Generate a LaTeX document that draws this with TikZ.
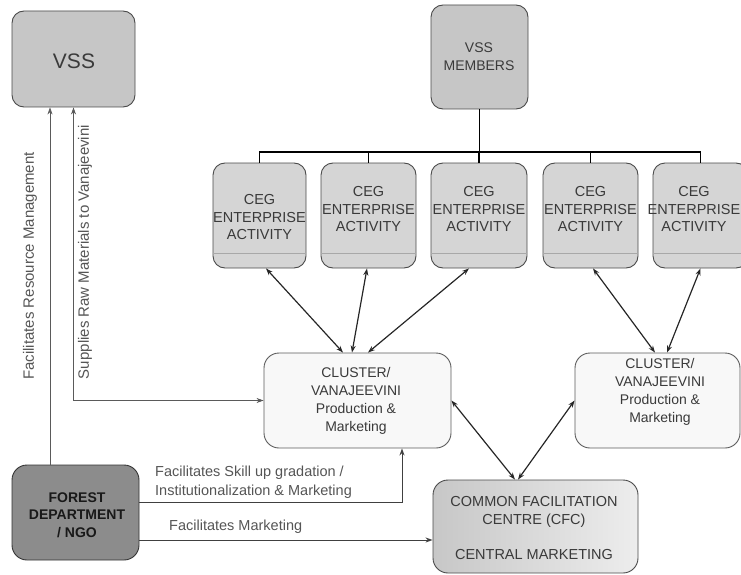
\documentclass[tikz,border=0pt]{standalone}
\usepackage{fontspec}
\setmainfont{Liberation Sans}
\usetikzlibrary{arrows.meta}

\definecolor{boxline}{HTML}{4A4A4A}
\definecolor{vssfill}{HTML}{C6C6C6}
\definecolor{cegfill}{HTML}{D5D5D5}
\definecolor{cegband}{HTML}{A8A8A8}
\definecolor{clusterfill}{HTML}{F8F8F8}
\definecolor{fdfill}{HTML}{8C8C8C}
\definecolor{textgray}{HTML}{3A3A3A}
\definecolor{lblgray}{HTML}{555555}
\definecolor{thinline}{HTML}{5A5A5A}

\tikzset{
  panel/.style={draw=boxline, line width=0.9pt, rounded corners=12pt, inner sep=0pt},
  boxtext/.style={text=textgray, align=center, inner sep=0pt,
    font=\fontsize{14}{18}\selectfont},
  cegtext/.style={boxtext, font=\fontsize{14.5}{17.5}\selectfont},
  lbl/.style={text=lblgray, align=left, inner sep=0pt,
    font=\fontsize{14.5}{19.5}\selectfont},
  busline/.style={draw=black, line width=1.6pt},
  tip/.tip={Stealth[length=7pt,width=5pt]},
  link/.style={draw=black!85, line width=1.2pt, tip-tip},
  feed/.style={draw=black!75, line width=0.9pt, -tip},
  thinfeed/.style={draw=thinline, line width=0.7pt},
  band/.style={draw=cegband, line width=1pt}
}

\begin{document}
\begin{tikzpicture}[x=1pt,y=-1pt]
\useasboundingbox (0,0) rectangle (741,575);
\clip (0,0) rectangle (741,575);

% ---- top left: VSS
\node[panel, fill=vssfill, minimum width=123pt, minimum height=96pt] (vss) at (73.5,59) {};
\node[boxtext, font=\fontsize{21}{24}\selectfont] (vss-t) at (74,61) {VSS};

% ---- VSS members and the enterprise groups below them
\node[panel, fill=vssfill, minimum width=97pt, minimum height=104pt] (mem) at (479.5,57) {};
\node[boxtext] (mem-t) at (479,57) {VSS\\MEMBERS};

\node[panel, fill=cegfill, minimum width=93pt, minimum height=105pt] (ceg1) at (259.5,215.5) {};
\node[panel, fill=cegfill, minimum width=95pt, minimum height=105pt] (ceg2) at (368.5,215.5) {};
\node[panel, fill=cegfill, minimum width=96pt, minimum height=105pt] (ceg3) at (479,215.5) {};
\node[panel, fill=cegfill, minimum width=95pt, minimum height=105pt] (ceg4) at (590.5,215.5) {};
\node[panel, fill=cegfill, minimum width=95pt, minimum height=105pt] (ceg5) at (700.5,215.5) {};

\foreach \n in {ceg1,ceg2,ceg3,ceg4,ceg5}
  \draw[band] ([yshift=-37.5pt,xshift=0.5pt]\n.west) -- ([yshift=-37.5pt,xshift=-0.5pt]\n.east);

\node[cegtext] (ceg1-t) at (259.5,217.5) {CEG\\ENTERPRISE\\ACTIVITY};
\node[cegtext] (ceg2-t) at (368.5,209.5) {CEG\\ENTERPRISE\\ACTIVITY};
\node[cegtext] (ceg3-t) at (479,209.5) {CEG\\ENTERPRISE\\ACTIVITY};
\node[cegtext] (ceg4-t) at (590.5,209.5) {CEG\\ENTERPRISE\\ACTIVITY};
\node[cegtext] (ceg5-t) at (694,209.5) {CEG\\ENTERPRISE\\ACTIVITY};

% ---- clusters
\node[panel, draw=boxline!90, fill=clusterfill, rounded corners=15pt,
      minimum width=187pt, minimum height=95pt] (cl1) at (357.5,400.5) {};
\node[boxtext] (cl1-t) at (356,400.5) {CLUSTER/\\VANAJEEVINI\\Production \&\\Marketing};

\node[panel, draw=boxline!90, fill=clusterfill, rounded corners=15pt,
      minimum width=165pt, minimum height=95pt] (cl2) at (657.5,400.5) {};
\node[boxtext] (cl2-t) at (660,391.5) {CLUSTER/\\VANAJEEVINI\\Production \&\\Marketing};

% ---- common facilitation centre
\node[panel, left color=black!22, right color=black!7, rounded corners=15pt,
      minimum width=205pt, minimum height=93pt] (cfc) at (535.5,526.5) {};
\node[boxtext, font=\fontsize{14.5}{18}\selectfont] (cfc-t) at (534,528.5)
  {COMMON FACILITATION\\CENTRE (CFC)\\[17pt]CENTRAL MARKETING};

% ---- forest department
\node[panel, draw=black!80, fill=fdfill, rounded corners=15pt,
      minimum width=127pt, minimum height=95pt] (fd) at (75.5,512.5) {};
\node[boxtext, text=black!90, font=\fontsize{14}{17.5}\selectfont\bfseries] (fd-t) at (77,515)
  {FOREST\\DEPARTMENT\\/ NGO};

% ---- tree from the members to the groups
\coordinate (bus) at (480,152);
\draw[busline] (mem.south) -- (mem.south |- bus);
\draw[busline] (ceg1.north) |- (bus) -| (ceg5.north);
\foreach \n in {ceg2,ceg3,ceg4}
  \draw[busline] (\n.north) -- (\n.north |- bus);

% ---- groups <-> clusters
\draw[link] ([xshift=6.5pt]ceg1.south) -- ([xshift=-14.5pt]cl1.north);
\draw[link] ([xshift=-1.5pt]ceg2.south) -- ([xshift=-5.5pt]cl1.north);
\draw[link] ([xshift=-10pt]ceg3.south) -- ([xshift=10.5pt]cl1.north);
\draw[link] ([xshift=2.5pt]ceg4.south) -- ([xshift=-2.5pt]cl2.north);
\draw[link] (ceg5.south) -- ([xshift=9.5pt]cl2.north);

% ---- clusters <-> CFC
\draw[link] (cl1.east) -- ([xshift=-20.5pt]cfc.north);
\draw[link] (cl2.west) -- ([xshift=-17.5pt]cfc.north);

% ---- forest department connections
\draw[thinfeed, -tip] ([xshift=-25.5pt]fd.north) -- ([xshift=-25.5pt]fd.north |- vss.south);
\draw[thinfeed, tip-tip] (vss.south) |- (cl1.west);
\draw[feed] ([yshift=10.5pt]fd.east) -| ([xshift=44.5pt]cl1.south);
\draw[feed] ([yshift=-27.5pt]fd.east) coordinate (mk) -- (mk -| cfc.west);

% ---- connector labels
\node[lbl, rotate=90, font=\fontsize{15}{18}\selectfont] (resmgmt) at (30,266)
  {Facilitates Resource Management};
\node[lbl, rotate=90, font=\fontsize{15}{18}\selectfont] (rawmat) at (85,252)
  {Supplies Raw Materials to Vanajeevini};
\node[lbl, anchor=west] (skill) at (155,482)
  {Facilitates Skill up gradation /\\Institutionalization \& Marketing};
\node[lbl, anchor=west] (mktg) at (169,527) {Facilitates Marketing};

\end{tikzpicture}
\end{document}
